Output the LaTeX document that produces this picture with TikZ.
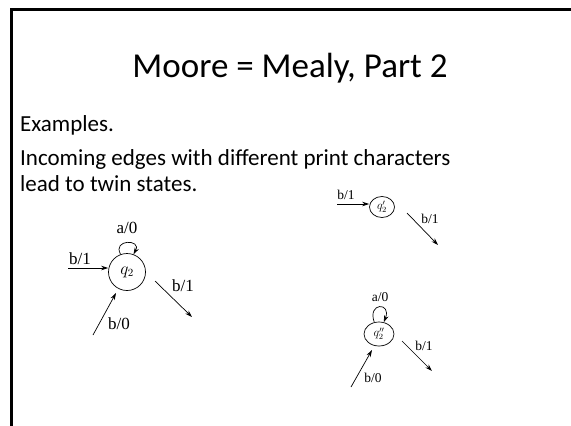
\documentclass[tikz,border=0pt]{standalone}
\usepackage{fontspec}
\setmainfont{Carlito}
\newfontfamily\timesf{Liberation Serif}
\usetikzlibrary{arrows.meta,shapes.geometric}
\tikzset{
  edge/.style={line width=0.7pt,-{Stealth[length=7pt,width=4.5pt]}},
  bigstate/.style={draw,circle,line width=0.7pt,minimum size=37pt,inner sep=0pt,font=\fontsize{16}{18}\selectfont},
  smallstate/.style={draw,ellipse,line width=0.7pt,inner sep=0pt,font=\fontsize{12}{14}\selectfont},
  biglbl/.style={font=\timesf\fontsize{17}{19}\selectfont,inner sep=0pt},
  smalllbl/.style={font=\timesf\fontsize{13.5}{15}\selectfont,inner sep=0pt},
  bodytext/.style={anchor=base west,font=\fontsize{23}{27}\selectfont,inner sep=0pt}
}
\begin{document}
\begin{tikzpicture}[x=1pt,y=-1pt]
\useasboundingbox (0,0) rectangle (571,426);
\fill[white] (0,0) rectangle (571,426);
% frame
\draw[line width=2.6pt] (11.3,426) -- (11.3,9.3) -- (571,9.3);
% texts
\node[anchor=base,font=\fontsize{35}{42}\selectfont,inner sep=0pt] (title) at (290,77) {Moore = Mealy, Part 2};
\node[bodytext] (ex) at (20,131) {Examples.};
\node[bodytext] (l1) at (20,165) {Incoming edges with different print characters};
\node[bodytext] (l2) at (20,191) {lead to twin states.};
% left state q2
\node[bigstate] (q2) at (127,272) {$q_2$};
\coordinate (a1) at (68,268);
\draw[edge] (a1) -- (a1 -| q2.west);
\node[biglbl] (la1) at (80,259) {b/1};
\draw[edge] (q2.110) .. controls (112,239) and (142,239) .. (q2.70);
\node[biglbl] (la0) at (127,228) {a/0};
\coordinate (o1s) at (155,281);
\coordinate (o1e) at (192,317);
\draw[edge] (o1s) -- (o1e);
\node[biglbl] (lo1) at (183,286) {b/1};
\coordinate (i1s) at (93,335);
\coordinate (i1e) at (116,293);
\draw[edge] (i1s) -- (i1e);
\node[biglbl] (li1) at (119,324) {b/0};
% top right state q2'
\node[smallstate,minimum width=25pt,minimum height=21pt] (q2p) at (382,207) {$q_2'$};
\coordinate (a2) at (337,204);
\draw[edge] (a2) -- (a2 -| q2p.west);
\node[smalllbl] (la2) at (346,195) {b/1};
\coordinate (o2s) at (407,213);
\coordinate (o2e) at (438,245);
\draw[edge] (o2s) -- (o2e);
\node[smalllbl] (lo2) at (430,219) {b/1};
% bottom right state q2''
\node[smallstate,minimum width=30pt,minimum height=24pt] (q2pp) at (379,334) {$q_2^{\prime\prime}$};
\draw[edge] (q2pp.112) .. controls (367,302) and (392,302) .. (q2pp.68);
\node[smalllbl] (la3) at (380,297) {a/0};
\coordinate (o3s) at (402,341);
\coordinate (o3e) at (432,371);
\draw[edge] (o3s) -- (o3e);
\node[smalllbl] (lo3) at (424,346) {b/1};
\coordinate (i3s) at (351,387);
\coordinate (i3e) at (372,350);
\draw[edge] (i3s) -- (i3e);
\node[smalllbl] (li3) at (373,378) {b/0};
\end{tikzpicture}
\end{document}
